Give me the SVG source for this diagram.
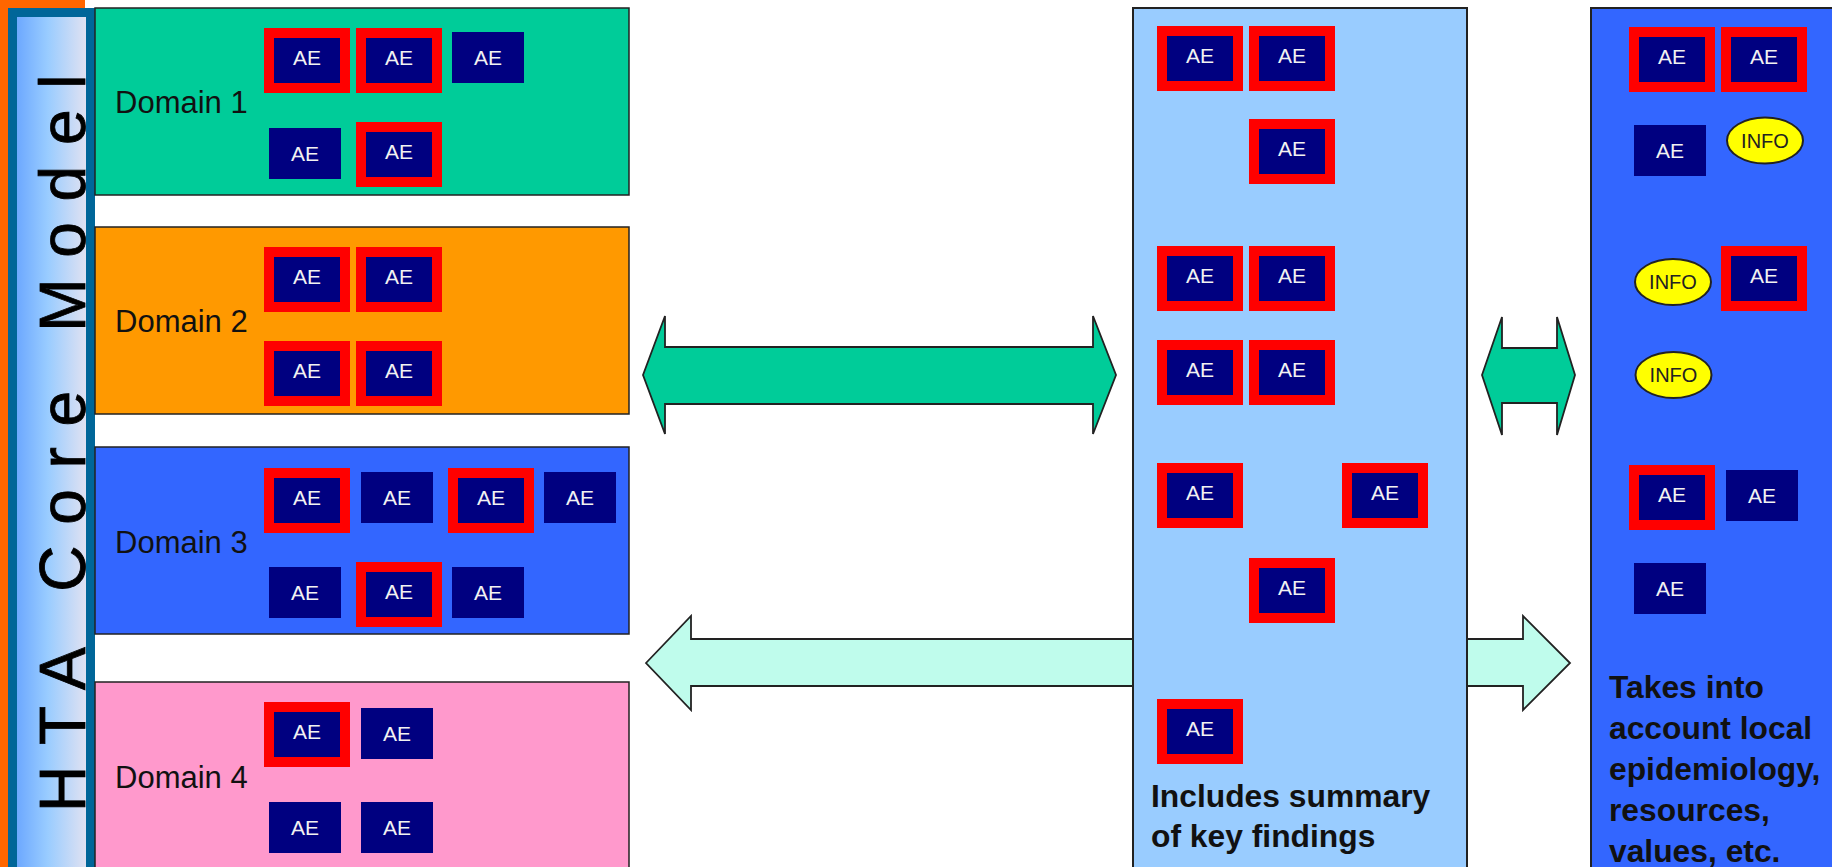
<svg xmlns="http://www.w3.org/2000/svg" width="1832" height="867" viewBox="0 0 1832 867">
<defs>
<linearGradient id="barGrad" x1="0" y1="0" x2="1" y2="0">
<stop offset="0" stop-color="#66a3ff"/>
<stop offset="0.45" stop-color="#99ccff"/>
<stop offset="1" stop-color="#e8e4f0"/>
</linearGradient>
</defs>
<style>
.dom{stroke:#222;stroke-width:1.5}
.dl{font-family:"Liberation Sans",Arial,sans-serif;font-size:31px;fill:#111}
.red{fill:#ff0000}
.navy{fill:#000080}
.ae{font-family:"Liberation Sans",Arial,sans-serif;font-size:21px;fill:#f2f2f2;text-anchor:middle}
.info{fill:#ffff00;stroke:#222;stroke-width:2}
.it{font-family:"Liberation Sans",Arial,sans-serif;font-size:20px;fill:#222;text-anchor:middle}
.note{font-family:"Liberation Sans",Arial,sans-serif;font-size:31.8px;font-weight:bold;fill:#111}
.arr{stroke:#222;stroke-width:1.8;stroke-linejoin:miter}
</style>
<rect x="0" y="0" width="1832" height="867" fill="#ffffff"/>
<rect x="0" y="0" width="85" height="867" fill="#ff6600"/>

<g id="connectors">
<path class="arr" fill="#bffcec" d="M646,663 L691,616 L691,639 L1523,639 L1523,616 L1570,663 L1523,710 L1523,686 L691,686 L691,710 Z"/>
<path class="arr" fill="#00cc99" d="M643,375 L665,316 L665,347 L1093,347 L1093,316 L1116,375 L1093,434 L1093,404 L665,404 L665,434 Z"/>
<path class="arr" fill="#00cc99" d="M1482,375 L1502,317 L1502,348 L1557,348 L1557,317 L1575,375 L1557,435 L1557,403 L1502,403 L1502,435 Z"/>
</g>

<g id="hta-core-model">
<rect x="12.5" y="12.5" width="78" height="870" fill="url(#barGrad)" stroke="#006699" stroke-width="9"/>
<text transform="translate(85,812) rotate(-90)" font-family="'Liberation Sans',Arial,sans-serif" font-size="64" letter-spacing="20.7" fill="#000" stroke="#000" stroke-width="0.8">HTA Core Model</text>
</g>

<g id="domain1">
<rect class="dom" x="95" y="8" width="534" height="187" fill="#00cc99"/>
<text class="dl" x="115" y="113">Domain 1</text>
<rect class="red" x="264" y="28" width="86" height="65"/><rect class="navy" x="274" y="38" width="66" height="45"/><text class="ae" x="307" y="65">AE</text>
<rect class="red" x="356" y="28" width="86" height="65"/><rect class="navy" x="366" y="38" width="66" height="45"/><text class="ae" x="399" y="65">AE</text>
<rect class="navy" x="452" y="32" width="72" height="51"/><text class="ae" x="488" y="65">AE</text>
<rect class="navy" x="269" y="128" width="72" height="51"/><text class="ae" x="305" y="161">AE</text>
<rect class="red" x="356" y="122" width="86" height="65"/><rect class="navy" x="366" y="132" width="66" height="45"/><text class="ae" x="399" y="159">AE</text>
</g>

<g id="domain2">
<rect class="dom" x="95" y="227" width="534" height="187" fill="#ff9900"/>
<text class="dl" x="115" y="332">Domain 2</text>
<rect class="red" x="264" y="247" width="86" height="65"/><rect class="navy" x="274" y="257" width="66" height="45"/><text class="ae" x="307" y="284">AE</text>
<rect class="red" x="356" y="247" width="86" height="65"/><rect class="navy" x="366" y="257" width="66" height="45"/><text class="ae" x="399" y="284">AE</text>
<rect class="red" x="264" y="341" width="86" height="65"/><rect class="navy" x="274" y="351" width="66" height="45"/><text class="ae" x="307" y="378">AE</text>
<rect class="red" x="356" y="341" width="86" height="65"/><rect class="navy" x="366" y="351" width="66" height="45"/><text class="ae" x="399" y="378">AE</text>
</g>

<g id="domain3">
<rect class="dom" x="95" y="447" width="534" height="187" fill="#3366ff"/>
<text class="dl" x="115" y="553">Domain 3</text>
<rect class="red" x="264" y="468" width="86" height="65"/><rect class="navy" x="274" y="478" width="66" height="45"/><text class="ae" x="307" y="505">AE</text>
<rect class="navy" x="361" y="472" width="72" height="51"/><text class="ae" x="397" y="505">AE</text>
<rect class="red" x="448" y="468" width="86" height="65"/><rect class="navy" x="458" y="478" width="66" height="45"/><text class="ae" x="491" y="505">AE</text>
<rect class="navy" x="544" y="472" width="72" height="51"/><text class="ae" x="580" y="505">AE</text>
<rect class="navy" x="269" y="567" width="72" height="51"/><text class="ae" x="305" y="600">AE</text>
<rect class="red" x="356" y="562" width="86" height="65"/><rect class="navy" x="366" y="572" width="66" height="45"/><text class="ae" x="399" y="599">AE</text>
<rect class="navy" x="452" y="567" width="72" height="51"/><text class="ae" x="488" y="600">AE</text>
</g>

<g id="domain4">
<rect class="dom" x="95" y="682" width="534" height="200" fill="#ff99cc"/>
<text class="dl" x="115" y="788">Domain 4</text>
<rect class="red" x="264" y="702" width="86" height="65"/><rect class="navy" x="274" y="712" width="66" height="45"/><text class="ae" x="307" y="739">AE</text>
<rect class="navy" x="361" y="708" width="72" height="51"/><text class="ae" x="397" y="741">AE</text>
<rect class="navy" x="269" y="802" width="72" height="51"/><text class="ae" x="305" y="835">AE</text>
<rect class="navy" x="361" y="802" width="72" height="51"/><text class="ae" x="397" y="835">AE</text>
</g>

<g id="summary-panel">
<rect x="1133" y="8" width="334" height="880" fill="#99ccff" stroke="#222" stroke-width="2"/>
<rect class="red" x="1157" y="26" width="86" height="65"/><rect class="navy" x="1167" y="36" width="66" height="45"/><text class="ae" x="1200" y="63">AE</text>
<rect class="red" x="1249" y="26" width="86" height="65"/><rect class="navy" x="1259" y="36" width="66" height="45"/><text class="ae" x="1292" y="63">AE</text>
<rect class="red" x="1249" y="119" width="86" height="65"/><rect class="navy" x="1259" y="129" width="66" height="45"/><text class="ae" x="1292" y="156">AE</text>
<rect class="red" x="1157" y="246" width="86" height="65"/><rect class="navy" x="1167" y="256" width="66" height="45"/><text class="ae" x="1200" y="283">AE</text>
<rect class="red" x="1249" y="246" width="86" height="65"/><rect class="navy" x="1259" y="256" width="66" height="45"/><text class="ae" x="1292" y="283">AE</text>
<rect class="red" x="1157" y="340" width="86" height="65"/><rect class="navy" x="1167" y="350" width="66" height="45"/><text class="ae" x="1200" y="377">AE</text>
<rect class="red" x="1249" y="340" width="86" height="65"/><rect class="navy" x="1259" y="350" width="66" height="45"/><text class="ae" x="1292" y="377">AE</text>
<rect class="red" x="1157" y="463" width="86" height="65"/><rect class="navy" x="1167" y="473" width="66" height="45"/><text class="ae" x="1200" y="500">AE</text>
<rect class="red" x="1342" y="463" width="86" height="65"/><rect class="navy" x="1352" y="473" width="66" height="45"/><text class="ae" x="1385" y="500">AE</text>
<rect class="red" x="1249" y="558" width="86" height="65"/><rect class="navy" x="1259" y="568" width="66" height="45"/><text class="ae" x="1292" y="595">AE</text>
<rect class="red" x="1157" y="699" width="86" height="65"/><rect class="navy" x="1167" y="709" width="66" height="45"/><text class="ae" x="1200" y="736">AE</text>
<text class="note" x="1151" y="807">Includes summary</text>
<text class="note" x="1151" y="847">of key findings</text>
</g>

<g id="local-panel">
<rect x="1591" y="8" width="260" height="880" fill="#3366ff" stroke="#222" stroke-width="2"/>
<rect class="red" x="1629" y="27" width="86" height="65"/><rect class="navy" x="1639" y="37" width="66" height="45"/><text class="ae" x="1672" y="64">AE</text>
<rect class="red" x="1721" y="27" width="86" height="65"/><rect class="navy" x="1731" y="37" width="66" height="45"/><text class="ae" x="1764" y="64">AE</text>
<rect class="navy" x="1634" y="125" width="72" height="51"/><text class="ae" x="1670" y="158">AE</text>
<ellipse class="info" cx="1765" cy="140.5" rx="38" ry="23"/><text class="it" x="1765" y="148">INFO</text>
<ellipse class="info" cx="1673" cy="282" rx="38" ry="23"/><text class="it" x="1673" y="289">INFO</text>
<rect class="red" x="1721" y="246" width="86" height="65"/><rect class="navy" x="1731" y="256" width="66" height="45"/><text class="ae" x="1764" y="283">AE</text>
<ellipse class="info" cx="1673.5" cy="375" rx="38" ry="23"/><text class="it" x="1673.5" y="382">INFO</text>
<rect class="red" x="1629" y="465" width="86" height="65"/><rect class="navy" x="1639" y="475" width="66" height="45"/><text class="ae" x="1672" y="502">AE</text>
<rect class="navy" x="1726" y="470" width="72" height="51"/><text class="ae" x="1762" y="503">AE</text>
<rect class="navy" x="1634" y="563" width="72" height="51"/><text class="ae" x="1670" y="596">AE</text>
<text class="note" x="1609" y="698">Takes into</text>
<text class="note" x="1609" y="739">account local</text>
<text class="note" x="1609" y="780">epidemiology,</text>
<text class="note" x="1609" y="821">resources,</text>
<text class="note" x="1609" y="862">values, etc.</text>
</g>
</svg>
